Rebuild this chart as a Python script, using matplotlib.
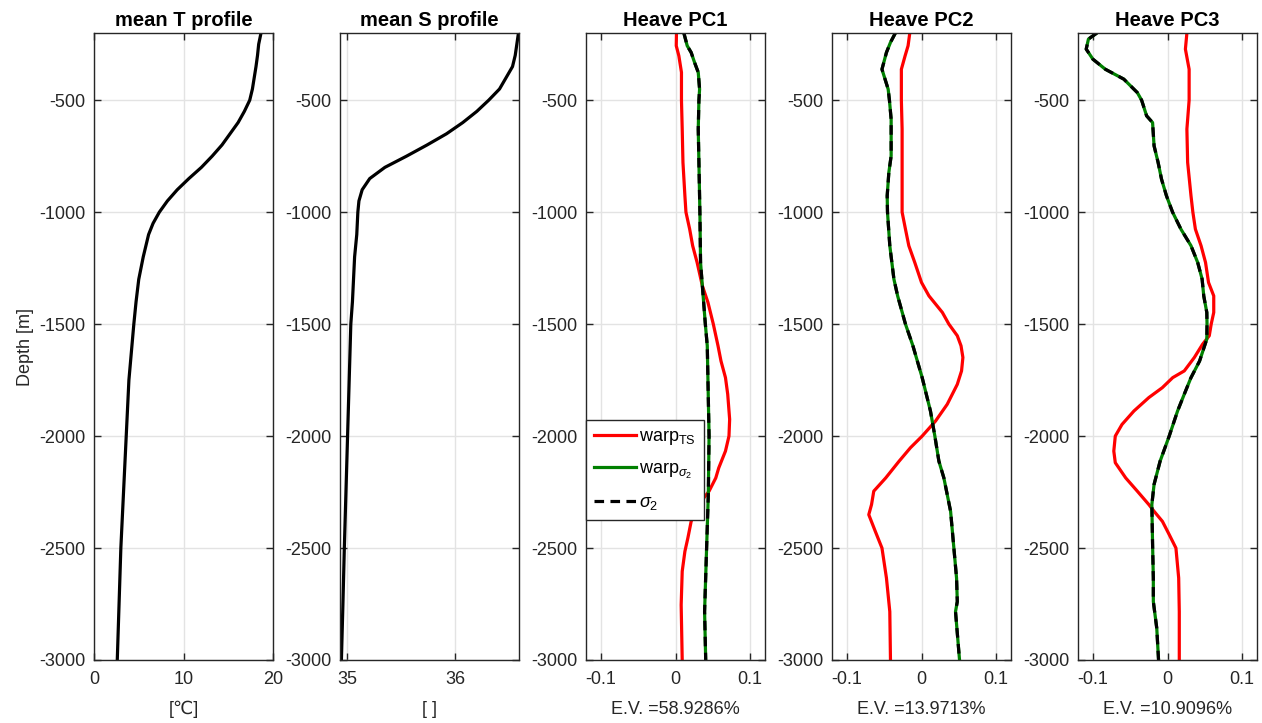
import numpy as np
import matplotlib.pyplot as plt

plt.rcParams['font.family'] = ['Liberation Sans', 'DejaVu Sans']
plt.rcParams['mathtext.fontset'] = 'custom'
plt.rcParams['mathtext.it'] = 'Liberation Sans:italic'
plt.rcParams['mathtext.rm'] = 'Liberation Sans'

# mean profiles
z_mean = [-200, -250, -300, -350, -400, -450, -500, -550, -600, -650, -700, -750, -800,
          -850, -900, -950, -1000, -1050, -1100, -1200, -1300, -1400, -1500, -1750,
          -2000, -2250, -2500, -2750, -3000]
T_mean = [18.66, 18.4, 18.27, 18.1, 17.9, 17.7, 17.4, 16.8, 16.1, 15.2, 14.3, 13.2, 12.0,
          10.6, 9.3, 8.2, 7.3, 6.6, 6.1, 5.5, 5.0, 4.7, 4.45, 3.9,
          3.6, 3.3, 3.0, 2.8, 2.6]
S_mean = [36.585, 36.57, 36.555, 36.53, 36.47, 36.41, 36.31, 36.20, 36.07, 35.92, 35.74,
          35.55, 35.35, 35.21, 35.14, 35.11, 35.10, 35.095, 35.09, 35.07, 35.06, 35.05,
          35.035, 35.02, 35.005, 34.99, 34.975, 34.962, 34.948]

# heave PC1
z_pc1_ts = [-200, -257, -302, -376, -500, -629, -778, -927, -1000, -1076, -1150, -1225,
            -1329, -1403, -1500, -1597, -1665, -1739, -1813, -1925, -2000, -2067, -2142,
            -2187, -2246, -2306, -2381, -2455, -2515, -2604, -2754, -3000]
pc1_ts = [0.0013, 0.001, 0.0045, 0.008, 0.008, 0.009, 0.010, 0.0126, 0.014, 0.019, 0.023, 0.029,
          0.036, 0.0435, 0.0507, 0.057, 0.061, 0.067, 0.070, 0.0726, 0.0717, 0.067, 0.058,
          0.054, 0.045, 0.031, 0.021, 0.0166, 0.0126, 0.009, 0.0076, 0.009]
z_pc1_s2 = [-200, -257, -287, -332, -376, -451, -500, -629, -778, -1000, -1225, -1329,
            -1500, -1597, -2000, -2261, -2500, -2784, -3000]
pc1_s2 = [0.0112, 0.0157, 0.021, 0.0256, 0.0305, 0.0323, 0.0314, 0.0305, 0.0314, 0.0327,
          0.0336, 0.036, 0.040, 0.0426, 0.045, 0.044, 0.0417, 0.039, 0.0405]

# heave PC2
z_pc2_ts = [-200, -257, -302, -362, -500, -629, -853, -1000, -1076, -1150, -1225, -1314,
            -1374, -1448, -1500, -1552, -1597, -1649, -1709, -1769, -1858, -1933, -2000,
            -2052, -2112, -2187, -2246, -2306, -2351, -2425, -2500, -2634, -2784, -3000]
pc2_ts = [-0.0157, -0.018, -0.022, -0.027, -0.027, -0.026, -0.026, -0.026, -0.0215, -0.017,
          -0.009, 0.0, 0.01, 0.028, 0.0367, 0.048, 0.053, 0.0555, 0.0537, 0.048, 0.0345,
          0.0188, 0.0009, -0.0148, -0.030, -0.048, -0.064, -0.067, -0.0707, -0.062, -0.053,
          -0.047, -0.0425, -0.0416]
z_pc2_s2 = [-200, -242, -287, -362, -451, -500, -585, -749, -823, -927, -1000, -1150, -1299,
            -1374, -1500, -1597, -1739, -1888, -2000, -2112, -2187, -2336, -2500, -2634,
            -2739, -2784, -3000]
pc2_s2 = [-0.035, -0.0416, -0.047, -0.053, -0.0447, -0.043, -0.0407, -0.0407, -0.0438, -0.046,
          -0.0456, -0.0425, -0.037, -0.032, -0.0215, -0.0115, 0.0009, 0.012, 0.0179, 0.0233,
          0.030, 0.039, 0.0434, 0.047, 0.048, 0.0456, 0.051]

# heave PC3
z_pc3_ts = [-200, -272, -362, -500, -629, -778, -927, -1000, -1076, -1150, -1225, -1314,
            -1374, -1448, -1500, -1552, -1590, -1649, -1709, -1739, -1784, -1828, -1888,
            -1948, -2000, -2067, -2119, -2187, -2246, -2306, -2336, -2381, -2440, -2500,
            -2634, -2784, -3000]
pc3_ts = [0.026, 0.024, 0.029, 0.029, 0.026, 0.027, 0.0315, 0.034, 0.0374, 0.045, 0.051,
          0.055, 0.062, 0.062, 0.0586, 0.056, 0.047, 0.036, 0.0225, 0.007, -0.007, -0.025,
          -0.045, -0.061, -0.070, -0.072, -0.070, -0.056, -0.0405, -0.025, -0.018, -0.0068,
          0.0023, 0.0113, 0.015, 0.0158, 0.0158]
z_pc3_s2 = [-200, -227, -272, -317, -362, -406, -466, -500, -570, -600, -704, -778, -853,
            -927, -1000, -1076, -1150, -1225, -1299, -1374, -1448, -1500, -1567, -1665,
            -1739, -1813, -1888, -2000, -2112, -2216, -2306, -2485, -2634, -2739, -2858, -3000]
pc3_s2 = [-0.0946, -0.106, -0.109, -0.100, -0.0833, -0.0586, -0.0405, -0.0347, -0.028, -0.020,
          -0.018, -0.0126, -0.008, -0.0014, 0.0068, 0.018, 0.0315, 0.0405, 0.0464, 0.0486,
          0.0527, 0.053, 0.0527, 0.043, 0.0315, 0.0225, 0.0135, 0.0023, -0.0099, -0.018,
          -0.021, -0.020, -0.019, -0.019, -0.0144, -0.012]

titles = ['mean T profile', 'mean S profile', 'Heave PC1', 'Heave PC2', 'Heave PC3']
xlabels = ['[\u2103]', '[ ]', 'E.V. =58.9286%', 'E.V. =13.9713%', 'E.V. =10.9096%']
yticks = [-3000, -2500, -2000, -1500, -1000, -500]

W, H = 1262, 723
fig = plt.figure(figsize=(W / 100, H / 100), dpi=100)
lefts = [94, 340, 586, 832, 1078]
axes = []
for i, l in enumerate(lefts):
    ax = fig.add_axes([l / W, 63 / H, 179 / W, 627 / H])
    axes.append(ax)

fs = 13
for i, ax in enumerate(axes):
    ax.set_ylim(-3000, -200)
    ax.set_yticks(yticks)
    ax.set_yticklabels([str(t) for t in yticks])
    ax.grid(True, color='#e3e3e3', lw=1)
    ax.set_axisbelow(True)
    ax.tick_params(direction='in', length=5, width=1, colors='#262626', labelsize=fs,
                   top=True, right=True, pad=6)
    ax.tick_params(axis='x', pad=8)
    for sp in ax.spines.values():
        sp.set_color('#262626')
        sp.set_linewidth(1)
    ax.set_title(titles[i], fontsize=14.5, fontweight='bold', pad=5)
    ax.set_xlabel(xlabels[i], fontsize=fs, color='#262626', labelpad=9)

axes[0].set_ylabel('Depth [m]', fontsize=fs, color='#262626', labelpad=4)

axes[0].plot(T_mean, z_mean, color='k', lw=2.3)
axes[0].set_xlim(0, 20)
axes[0].set_xticks([0, 10, 20])

axes[1].plot(S_mean, z_mean, color='k', lw=2.3)
axes[1].set_xlim(34.935, 36.59)
axes[1].set_xticks([35, 36])

heave = [(z_pc1_ts, pc1_ts, z_pc1_s2, pc1_s2),
         (z_pc2_ts, pc2_ts, z_pc2_s2, pc2_s2),
         (z_pc3_ts, pc3_ts, z_pc3_s2, pc3_s2)]
for ax, (zt, vt, zs, vs) in zip(axes[2:], heave):
    ax.plot(vt, zt, color='#ff0000', lw=2.3, label='warp$_{\\mathrm{TS}}$')
    ax.plot(vs, zs, color='#008000', lw=2.3, label='warp$_{\\sigma_2}$')
    ax.plot(vs, zs, color='k', lw=2.3, ls=(0, (3, 2)), label='$\\sigma_2$')
    ax.set_xlim(-0.12, 0.12)
    ax.set_xticks([-0.1, 0, 0.1])
    ax.set_xticklabels(['-0.1', '0', '0.1'])

leg = axes[2].legend(loc='upper left', bbox_to_anchor=(0.0, 0.383), borderaxespad=0,
                     fontsize=fs, frameon=True, fancybox=False, framealpha=1,
                     edgecolor='#262626', handlelength=2.3, handletextpad=0.2,
                     labelspacing=0.75, borderpad=0.45)
leg.get_frame().set_linewidth(1)

fig.savefig('out.png', dpi=100)
